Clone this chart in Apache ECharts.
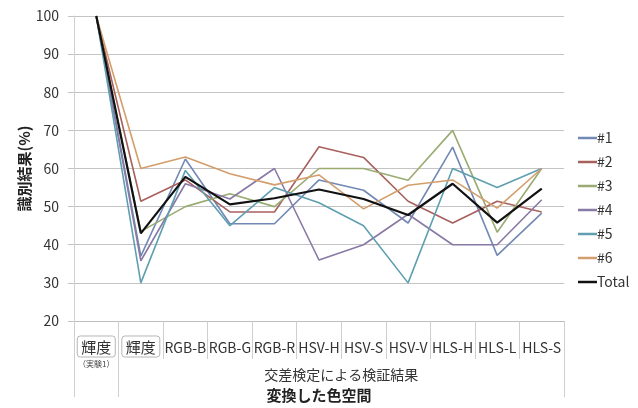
<!DOCTYPE html>
<html lang="ja">
<head>
  <meta charset="UTF-8">
  <title>識別結果</title>
  <script src="https://cdn.jsdelivr.net/npm/echarts@6/dist/echarts.min.js"></script>
  <style>
    html,body{padding:0;margin:0;background:#fff;}
    #chart{width:638px;height:408px;}
  </style>
</head>
<body>
  <div id="chart"></div>
  <script>
    // 変換した色空間
    const categories = ['輝度（実験1）', '輝度', 'RGB-B', 'RGB-G', 'RGB-R', 'HSV-H', 'HSV-S', 'HSV-V', 'HLS-H', 'HLS-L', 'HLS-S'];
    const groupLabel = '交差検定による検証結果';

    const s1 = [100, 37, 62.5, 45.5, 45.5, 57, 54.3, 45.7, 65.6, 37.2, 48.3];
    const s2 = [100, 51.4, 57, 48.6, 48.6, 65.7, 62.9, 51.4, 45.7, 51.4, 48.6];
    const s3 = [100, 43.5, 50, 53.4, 50, 60, 60, 56.9, 70, 43.3, 60];
    const s4 = [100, 35.8, 56, 52, 60, 36, 40, 48, 40, 40, 51.8];
    const s5 = [100, 30, 59.5, 45, 55, 51, 45, 30, 60, 55, 60];
    const s6 = [100, 60, 63, 58.6, 55.7, 58.3, 49.4, 55.6, 57, 49.6, 60];
    const total = [100, 43, 57.8, 50.6, 52.2, 54.5, 52, 47.8, 56, 45.8, 54.7];

    const names = ['#1', '#2', '#3', '#4', '#5', '#6', 'Total'];
    const colors = ['#7189b4', '#a8605d', '#9aab72', '#8879a5', '#5f9fb0', '#d49e6c', '#111111'];
    const values = [s1, s2, s3, s4, s5, s6, total];

    const font = 'Noto Sans CJK JP';

    let option = {
      animation: false,
      textStyle: {fontFamily: font},
      grid: {left: 74, right: 74, top: 16, bottom: 84},
      legend: {
        orient: 'vertical',
        left: 578,
        top: 131,
        padding: 0,
        icon: 'rect',
        itemWidth: 19,
        itemHeight: 2.5,
        itemGap: 10,
        textStyle: {fontSize: 14, color: '#333', padding: [0, 0, 0, -5]},
        data: names
      },
      xAxis: [{
        type: 'category',
        data: categories,
        boundaryGap: true,
        axisLine: {lineStyle: {color: '#bdbdbd', width: 1}},
        axisTick: {show: true, interval: 0, length: 38, lineStyle: {color: '#cfcfcf'}},
        axisLabel: {
          interval: 0,
          margin: 15,
          fontSize: 14,
          color: '#333',
          formatter: (value, index) => {
            if (index === 0) return '{box|輝度}\n{sub|（実験1）}';
            if (index === 1) return '{box|' + value + '}';
            return '{plain|' + value + '}';
          },
          rich: {
            box: {fontSize: 15, color: '#333', borderColor: '#b5b5b5', borderWidth: 1, borderRadius: 3, padding: [4, 4, 2, 4]},
            sub: {fontSize: 8, color: '#444', padding: [3, 0, 0, 0]},
            plain: {fontSize: 14, color: '#333', padding: [5, 0, 0, 0]}
          }
        },
        splitLine: {show: false}
      }, {
        type: 'value',
        min: 0,
        max: 11,
        position: 'bottom',
        axisLine: {show: false},
        splitLine: {show: false},
        axisTick: {show: true, customValues: [0, 1, 11], length: 76, lineStyle: {color: '#cfcfcf'}},
        axisLabel: {
          customValues: [6],
          margin: 47,
          fontSize: 14,
          color: '#333',
          formatter: () => groupLabel
        },
        name: '変換した色空間',
        nameLocation: 'middle',
        nameGap: 67,
        nameMoveOverlap: false,
        nameTextStyle: {fontSize: 15, fontWeight: 'bold', color: '#222'}
      }],
      yAxis: {
        type: 'value',
        min: 20,
        max: 100,
        interval: 10,
        name: '識別結果(%)',
        nameLocation: 'middle',
        nameGap: 42,
        nameMoveOverlap: false,
        nameTextStyle: {fontSize: 15, fontWeight: 'bold', color: '#222'},
        axisLine: {show: true, lineStyle: {color: '#d0d0d0'}},
        axisTick: {show: true, length: 6, lineStyle: {color: '#c4c4c4'}},
        axisLabel: {fontSize: 14, color: '#333', margin: 15},
        splitLine: {lineStyle: {color: '#c4c4c4', width: 1}}
      },
      series: names.map((n, i) => ({
        name: n,
        type: 'line',
        symbol: 'none',
        color: colors[i],
        lineStyle: {width: n === 'Total' ? 2.2 : 1.6, color: colors[i]},
        data: values[i]
      }))
    };

    let myChart = echarts.init(document.getElementById('chart'));
    myChart.setOption(option);
  </script>
</body>
</html>
